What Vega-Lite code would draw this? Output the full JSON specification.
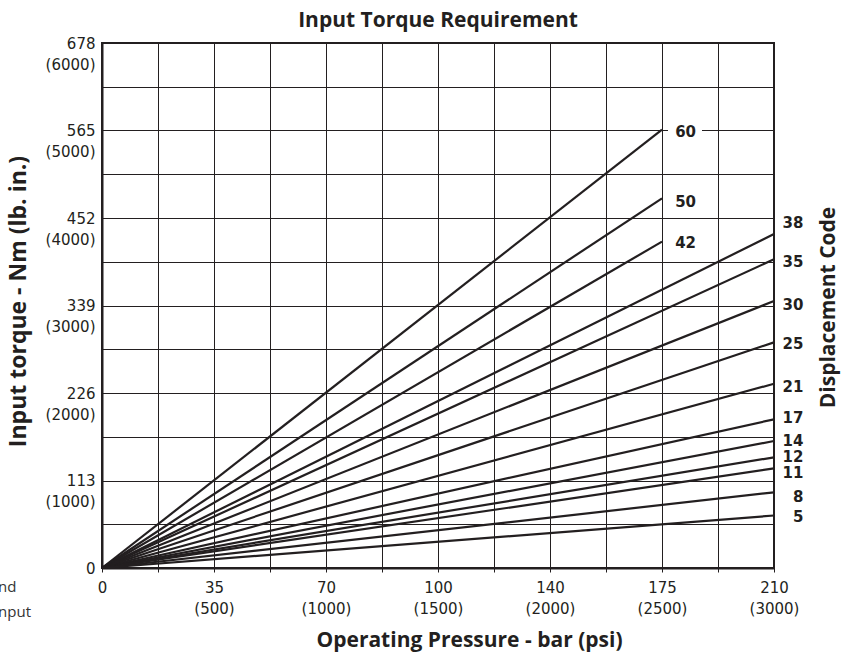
{
  "$schema": "https://vega.github.io/schema/vega-lite/v6.json",
  "width": 672,
  "height": 525,
  "autosize": {"type": "none"},
  "padding": {"left": 102, "top": 43, "right": 80, "bottom": 86},
  "background": "white",
  "title": {
    "text": "Input Torque Requirement",
    "font": "Open Sans",
    "fontSize": 21,
    "fontWeight": "bold",
    "color": "#231f20",
    "anchor": "middle",
    "frame": "group",
    "baseline": "bottom",
    "offset": -16
  },
  "config": {
    "view": {"stroke": "#231f20", "strokeWidth": 2},
    "axisX": {
      "labelFont": "DejaVu Sans",
      "labelFontSize": 15,
      "labelColor": "#231f20",
      "labelLineHeight": 21,
      "labelBaseline": "top",
      "labelPadding": 8,
      "labelFlush": false,
      "labelOverlap": false,
      "labelBound": false,
      "tickSize": 4,
      "tickColor": "#231f20",
      "tickWidth": 1,
      "domainColor": "#231f20",
      "domainWidth": 2,
      "gridColor": "#231f20",
      "gridWidth": 1,
      "gridOpacity": 1,
      "titleFont": "Open Sans",
      "titleFontSize": 21,
      "titleFontWeight": "bold",
      "titleColor": "#231f20",
      "titleX": 367,
      "titleY": 72,
      "titleBaseline": "middle",
      "titleAlign": "center"
    },
    "axisLeft": {
      "labelFont": "DejaVu Sans",
      "labelFontSize": 15,
      "labelColor": "#231f20",
      "labelLineHeight": 21,
      "labelBaseline": "middle",
      "labelAlign": "right",
      "labelPadding": 7,
      "labelFlush": false,
      "labelOverlap": false,
      "labelBound": false,
      "ticks": false,
      "domainColor": "#231f20",
      "domainWidth": 2,
      "gridColor": "#231f20",
      "gridWidth": 1,
      "gridOpacity": 1,
      "titleFont": "Open Sans",
      "titleFontSize": 23,
      "titleFontWeight": "bold",
      "titleColor": "#231f20",
      "titleAngle": -90,
      "titleX": -84,
      "titleY": 258,
      "titleBaseline": "middle",
      "titleAlign": "center"
    }
  },
  "datasets": {
    "lines": [
      {"code": "60", "psi": 0, "torque": 0}, {"code": "60", "psi": 2500, "torque": 5010},
      {"code": "50", "psi": 0, "torque": 0}, {"code": "50", "psi": 2500, "torque": 4225},
      {"code": "42", "psi": 0, "torque": 0}, {"code": "42", "psi": 2500, "torque": 3730},
      {"code": "38", "psi": 0, "torque": 0}, {"code": "38", "psi": 3000, "torque": 3817},
      {"code": "35", "psi": 0, "torque": 0}, {"code": "35", "psi": 3000, "torque": 3528},
      {"code": "30", "psi": 0, "torque": 0}, {"code": "30", "psi": 3000, "torque": 3051},
      {"code": "25", "psi": 0, "torque": 0}, {"code": "25", "psi": 3000, "torque": 2579},
      {"code": "21", "psi": 0, "torque": 0}, {"code": "21", "psi": 3000, "torque": 2106},
      {"code": "17", "psi": 0, "torque": 0}, {"code": "17", "psi": 3000, "torque": 1699},
      {"code": "14", "psi": 0, "torque": 0}, {"code": "14", "psi": 3000, "torque": 1451},
      {"code": "12", "psi": 0, "torque": 0}, {"code": "12", "psi": 3000, "torque": 1265},
      {"code": "11", "psi": 0, "torque": 0}, {"code": "11", "psi": 3000, "torque": 1139},
      {"code": "8", "psi": 0, "torque": 0}, {"code": "8", "psi": 3000, "torque": 865},
      {"code": "5", "psi": 0, "torque": 0}, {"code": "5", "psi": 3000, "torque": 600}
    ],
    "labels": [
      {"code": "60", "psi": 2652, "torque": 4986, "inner": true},
      {"code": "50", "psi": 2652, "torque": 4186, "inner": true},
      {"code": "42", "psi": 2652, "torque": 3711, "inner": true},
      {"code": "38", "psi": 3131, "torque": 3939, "inner": false},
      {"code": "35", "psi": 3131, "torque": 3501, "inner": false},
      {"code": "30", "psi": 3131, "torque": 3006, "inner": false},
      {"code": "25", "psi": 3131, "torque": 2560, "inner": false},
      {"code": "21", "psi": 3131, "torque": 2072, "inner": false},
      {"code": "17", "psi": 3131, "torque": 1711, "inner": false},
      {"code": "14", "psi": 3131, "torque": 1455, "inner": false},
      {"code": "12", "psi": 3131, "torque": 1272, "inner": false},
      {"code": "11", "psi": 3131, "torque": 1089, "inner": false},
      {"code": "8", "psi": 3131, "torque": 808, "inner": false},
      {"code": "5", "psi": 3131, "torque": 579, "inner": false}
    ],
    "fragments": [
      {"text": "nd", "psi": -464, "torque": -217},
      {"text": "nput", "psi": -464, "torque": -503}
    ]
  },
  "resolve": {"axis": {"y": "independent"}},
  "layer": [
    {
      "data": {"name": "lines"},
      "mark": {"type": "line", "color": "#231f20", "strokeWidth": 2.2, "clip": false},
      "encoding": {
        "x": {
          "field": "psi", "type": "quantitative",
          "scale": {"domain": [0, 3000], "nice": false, "zero": false},
          "axis": {
            "orient": "bottom", "title": "Operating Pressure - bar (psi)", "grid": true, "labelOverlap": false,
            "values": [0, 250, 500, 750, 1000, 1250, 1500, 1750, 2000, 2250, 2500, 2750, 3000],
            "labelExpr": "datum.value == 0 ? '0' : (datum.value % 500 != 0 ? '' : [datum.value == 500 ? '35' : datum.value == 1000 ? '70' : datum.value == 1500 ? '100' : datum.value == 2000 ? '140' : datum.value == 2500 ? '175' : '210', '(' + datum.value + ')'])"
          }
        },
        "y": {
          "field": "torque", "type": "quantitative",
          "scale": {"domain": [0, 6000], "nice": false, "zero": false},
          "axis": {
            "orient": "left", "title": "Input torque - Nm (lb. in.)", "grid": true, "labelOverlap": false,
            "values": [0, 500, 1000, 1500, 2000, 2500, 3000, 3500, 4000, 4500, 5000, 5500, 6000],
            "labelExpr": "datum.value == 0 ? '0' : (datum.value % 1000 != 0 ? '' : ['' + round(datum.value * 0.113), '(' + datum.value + ')'])"
          }
        },
        "detail": {"field": "code", "type": "nominal"}
      }
    },
    {
      "data": {"name": "labels"},
      "transform": [{"filter": "datum.inner"}],
      "mark": {"type": "point", "shape": "M-1.65,-0.4H0.35V0.4H-1.65Z", "filled": true, "color": "white", "opacity": 1, "size": 1156, "strokeWidth": 0},
      "encoding": {
        "x": {"field": "psi", "type": "quantitative"},
        "y": {"field": "torque", "type": "quantitative", "axis": {"orient": "right", "labels": false, "ticks": false, "domain": false, "grid": false, "title": "Displacement Code", "titleFont": "Open Sans", "titleFontSize": 21, "titleFontWeight": "bold", "titleColor": "#231f20", "titleAngle": -90, "titleX": 54, "titleY": 264, "titleBaseline": "middle", "titleAlign": "center"}}
      }
    },
    {
      "data": {"name": "labels"},
      "mark": {"type": "text", "font": "DejaVu Sans", "fontSize": 15, "fontWeight": "bold", "color": "#231f20", "align": "right", "baseline": "middle"},
      "encoding": {
        "x": {"field": "psi", "type": "quantitative"},
        "y": {"field": "torque", "type": "quantitative", "axis": null},
        "text": {"field": "code", "type": "nominal"}
      }
    },
    {
      "data": {"name": "fragments"},
      "mark": {"type": "text", "font": "Open Sans", "fontSize": 15, "color": "#333333", "align": "left", "baseline": "middle"},
      "encoding": {
        "x": {"field": "psi", "type": "quantitative"},
        "y": {"field": "torque", "type": "quantitative", "axis": null},
        "text": {"field": "text", "type": "nominal"}
      }
    }
  ]
}
